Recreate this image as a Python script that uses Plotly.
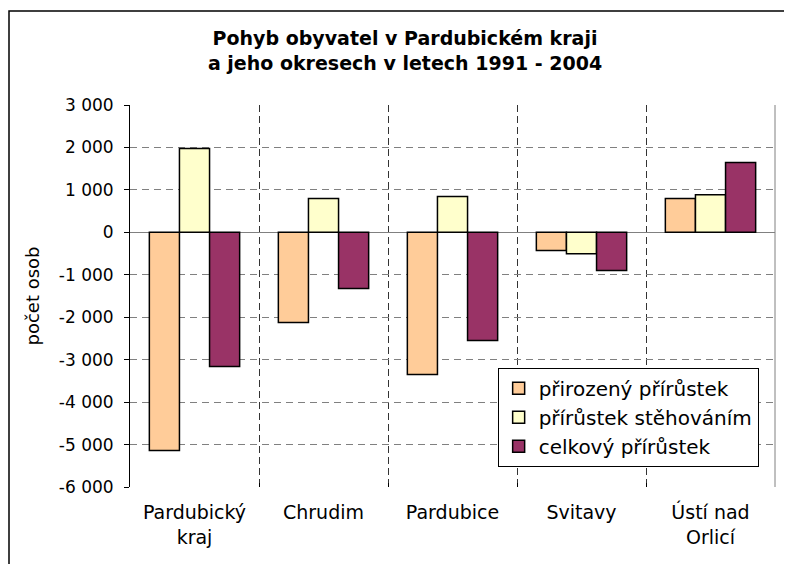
import plotly.graph_objects as go

categories = ["Pardubický<br>kraj", "Chrudim", "Pardubice", "Svitavy", "Ústí nad<br>Orlicí"]
cat_pos = [0.5, 1.5, 2.5, 3.5, 4.5]
series_names = ["přirozený přírůstek", "přírůstek stěhováním", "celkový přírůstek"]
prirozeny = [-5140, -2125, -3350, -430, 800]
stehovani = [1975, 800, 845, -505, 885]
celkovy = [-3160, -1325, -2550, -900, 1645]
colors = ["#FFCC99", "#FFFFCC", "#993366"]
y_tickvals = [3000, 2000, 1000, 0, -1000, -2000, -3000, -4000, -5000, -6000]
y_ticktext = ["3 000", "2 000", "1 000", "0", "-1 000", "-2 000", "-3 000", "-4 000", "-5 000", "-6 000"]

FONT = "DejaVu Sans, Liberation Sans, Arial, sans-serif"

# the page has an 8px body margin, so the figure is drawn at (8, 8)
W, H = 784, 556
L, T, R, B = 122, 97, 17, 77
PW, PH = W - L - R, H - T - B

fig = go.Figure()
for name, vals, col in zip(series_names, [prirozeny, stehovani, celkovy], colors):
    fig.add_trace(go.Bar(
        x=cat_pos, y=vals, name=name,
        marker=dict(color=col, line=dict(color="black", width=1.5)),
    ))

fig.update_layout(
    width=W, height=H,
    margin=dict(l=L, r=R, t=T, b=B),
    paper_bgcolor="white", plot_bgcolor="white",
    barmode="group", bargap=0.3, bargroupgap=0,
    font=dict(family=FONT, color="black"),
    title=dict(
        text="<b>Pohyb obyvatel v Pardubickém kraji<br>a jeho okresech v letech 1991 - 2004</b>",
        x=(405 - 8) / W, xanchor="center", y=1 - 37 / H, yanchor="top",
        font=dict(family=FONT, size=19, color="black"),
    ),
    legend=dict(
        x=0.570, y=0.312, xanchor="left", yanchor="top",
        bgcolor="white", bordercolor="black", borderwidth=1,
        font=dict(family=FONT, size=20, color="black"),
        itemwidth=30, tracegroupgap=0,
    ),
    showlegend=True,
)

fig.update_xaxes(
    range=[0, 5], tickmode="array", tickvals=cat_pos, ticktext=categories,
    showgrid=False, zeroline=False, showline=False, ticks="",
    tickfont=dict(family=FONT, size=19, color="black"),
    ticklabelstandoff=12,
    minor=dict(tickmode="array", tickvals=[1, 2, 3, 4], showgrid=True,
               gridcolor="#333333", griddash="7px,4px", gridwidth=1,
               ticks="inside", ticklen=4, tickcolor="black"),
    fixedrange=True,
)

fig.update_yaxes(
    range=[-6000, 3000], tickmode="array", tickvals=y_tickvals, ticktext=y_ticktext,
    showgrid=True, gridcolor="#808080", griddash="7px,5px", gridwidth=1,
    zeroline=True, zerolinecolor="#808080", zerolinewidth=1,
    showline=True, linecolor="black", linewidth=1,
    ticks="outside", ticklen=5, tickcolor="black", ticklabelstandoff=7,
    tickfont=dict(family=FONT, size=17, color="black"),
    title=dict(text="počet osob", font=dict(family=FONT, size=18, color="black"), standoff=14),
    fixedrange=True,
)

# right edge of plot area and outer chart border
fig.add_shape(type="line", xref="paper", yref="paper", x0=1, x1=1, y0=0, y1=1,
              line=dict(color="#808080", width=1), layer="below")
fig.add_shape(type="rect", xref="paper", yref="paper",
              x0=(9 - 8 - L) / PW, x1=(W + 20 - L) / PW,
              y0=(T + PH - (H + 30)) / PH, y1=(T + PH - (11 - 8)) / PH,
              line=dict(color="black", width=1.5), fillcolor="rgba(0,0,0,0)")

fig.write_html("out.html")
